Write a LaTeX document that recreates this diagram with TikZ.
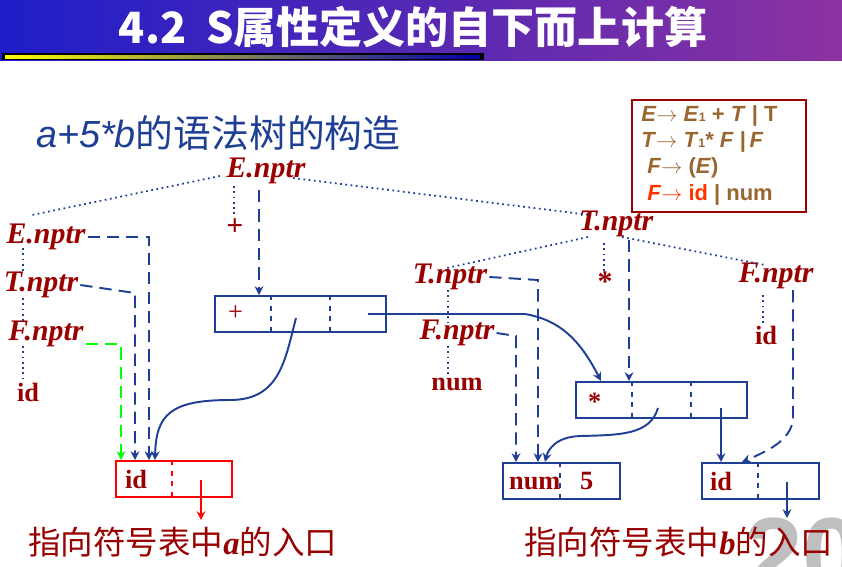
\documentclass[tikz,border=0pt]{standalone}
\usepackage{fontspec}
\setmainfont{Liberation Serif}
\newfontfamily\cjk{Noto Sans CJK SC}
\newfontfamily\gsans{Liberation Sans}
\usetikzlibrary{arrows.meta}
\definecolor{dred}{HTML}{990000}
\definecolor{lblue}{HTML}{1F3F95}
\definecolor{gbrown}{HTML}{9A6630}
\definecolor{gred}{HTML}{FF3300}
\tikzset{
    attr/.style={text=dred, font=\bfseries\itshape\fontsize{17}{17}\selectfont, inner sep=1pt},
    leaf/.style={text=dred, font=\bfseries\fontsize{15}{15}\selectfont, inner sep=1pt},
    rec/.style={draw=lblue, line width=1.2pt, minimum width=#1*0.567pt, minimum height=36*0.567pt, inner sep=0pt},
    tree/.style={lblue, dotted, line width=1pt},
    ptr/.style={lblue, dash pattern=on 7pt off 4pt, line width=1.1pt, -{Stealth[length=5pt,width=5pt]}},
    link/.style={lblue, line width=1.1pt, -{Stealth[length=5pt,width=5pt]}},
    note/.style={text=dred, font=\cjk\fontsize{18.5}{18.5}\selectfont, inner sep=0pt}
}
\begin{document}
\begin{tikzpicture}[x=0.02cm, y=-0.02cm]
    \clip (0,0) rectangle (842,566);
    \useasboundingbox (0,0) rectangle (842,566);
    % title band
    \shade[left color={rgb,255:red,30;green,30;blue,200}, right color={rgb,255:red,140;green,50;blue,160}] (0,0) rectangle (842,60);
    \fill[black] (2,53) rectangle (484,60);
    \shade[left color=yellow, middle color=red, right color={rgb,255:red,0;green,0;blue,170}] (5,55) rectangle (480,58.5);
    \node[text=white, font=\cjk\bfseries\fontsize{24.5}{24.5}\selectfont] (title) at (413,27) {4.2\ \ \textit{S}属性定义的自下而上计算};
    \node[text=lblue, font=\cjk\fontsize{21.5}{21.5}\selectfont, anchor=west] (sub) at (30,133) {\textit{\gsans a+5*b}的语法树的构造};
    % grammar
    \draw[dred, line width=0.8pt] (632,100) rectangle (806,212);
    \node[anchor=north west, align=left, inner sep=0pt, font=\gsans\bfseries\fontsize{12.5}{15}\selectfont, text=gbrown] (gram) at (641,105)
        {\textit{E}$\rightarrow$ \textit{E}{\scriptsize 1} + \textit{T} \textbar\ T\\
         \textit{T}$\rightarrow$ \textit{T}{\scriptsize 1}* \textit{F} \textbar\,\textit{F}\\
         \ \textit{F}$\rightarrow$ (\textit{E})\\
         \ \textcolor{gred}{\textit{F}$\rightarrow$ id} \textbar\ num};
    % tree nodes
    \node[attr] (E0) at (266,171) {E.nptr};
    \node[attr] (E1) at (46,237) {E.nptr};
    \node[attr] (T1) at (41,285) {T.nptr};
    \node[attr] (F1) at (46,334) {F.nptr};
    \node[leaf] (ida) at (28,392) {id};
    \node[text=dred, font=\bfseries\fontsize{17}{17}\selectfont] (plus) at (235,227) {+};
    \node[attr] (T0) at (616,224) {T.nptr};
    \node[attr] (T2) at (450,277) {T.nptr};
    \node[text=dred, font=\bfseries\fontsize{17}{17}\selectfont] (star) at (605,282) {*};
    \node[attr] (F3) at (776,276) {F.nptr};
    \node[leaf] (idb) at (766,335) {id};
    \node[attr] (F2) at (457,333) {F.nptr};
    \node[leaf] (num) at (457,384) {num};
    % tree edges
    \draw[tree] (220,176) -- (32,215);
    \draw[tree] (293,178) -- (590,215);
    \draw[tree] (234,186) -- (234,214);
    \draw[tree] (23,248) -- (23,272) (23,298) -- (23,322) (23,346) -- (23,380);
    \draw[tree] (588,237) -- (447,268);
    \draw[tree] (622,237) -- (765,265);
    \draw[tree] (604,243) -- (604,273);
    \draw[tree] (448,290) -- (448,322) (448,346) -- (448,375);
    \draw[tree] (763,295) -- (763,325);
    % records
    \node[rec=172, anchor=north west] (rplus) at (214,295) {};
    \node[leaf, anchor=west, font=\fontsize{15}{15}\selectfont] (rplusl) at (226,313) {+};
    \node[rec=116, draw=red, anchor=north west] (rida) at (115,460) {};
    \node[leaf, anchor=west] (ridal) at (123,479) {id};
    \node[rec=172, anchor=north west] (rstar) at (575,381) {};
    \node[leaf, anchor=west] (rstarl) at (586,402) {*};
    \node[rec=117, anchor=north west] (rnum) at (502,462) {};
    \node[leaf, anchor=west] (rnuml) at (507,481) {num\ \ \ 5};
    \node[rec=117, anchor=north west] (ridb) at (701,462) {};
    \node[leaf, anchor=west] (ridbl) at (708,481) {id};
    \draw[lblue, dashed, line width=1.1pt] (271,295) -- (271,331) (330,295) -- (330,331)
        (632,381) -- (632,417) (691,381) -- (691,417) (560,462) -- (560,498) (758,462) -- (758,498);
    \draw[red, dashed, line width=1.1pt] (172,460) -- (172,497);
    % pointers
    \draw[ptr] (259,190) -- (259,295);
    \draw[ptr] (E1.east) -- (149,237) -- (149,460);
    \draw[ptr] (T1.east) -- (135,293) -- (135,460);
    \draw[ptr, green] (F1.east) ++(0,10) -- (121,344) -- (121,460);
    \draw[link] (296,318) .. controls (285,360) and (280,400) .. (230,400) .. controls (170,400) and (156,415) .. (155,460);
    \draw[link] (368,314) -- (525,314) .. controls (560,320) and (580,340) .. (601,381);
    \draw[ptr] (T2.east) -- (538,280) -- (538,462);
    \draw[ptr] (F2.east) -- (516,336) -- (516,462);
    \draw[ptr] (629,240) -- (629,381);
    \draw[ptr] (793,290) -- (793,420) .. controls (790,440) and (770,450) .. (742,462);
    \draw[link] (658,408) .. controls (650,435) and (620,435) .. (580,436) .. controls (555,437) and (548,450) .. (545,462);
    \draw[link] (721,408) -- (721,462);
    \draw[link] (787,482) -- (787,518);
    \draw[-{Stealth[length=5pt,width=5pt]}, red, line width=1.1pt] (201,480) -- (201,520);
    % page number and notes
    \node[text=black!25, font=\gsans\bfseries\fontsize{60}{60}\selectfont, anchor=north west] (pg) at (738,512) {20};
    \node[note, anchor=west] (na) at (28,542) {指向符号表中{\rmfamily\bfseries\itshape a}的入口};
    \node[note, anchor=west] (nb) at (524,542) {指向符号表中{\rmfamily\bfseries\itshape b}的入口};
\end{tikzpicture}
\end{document}
